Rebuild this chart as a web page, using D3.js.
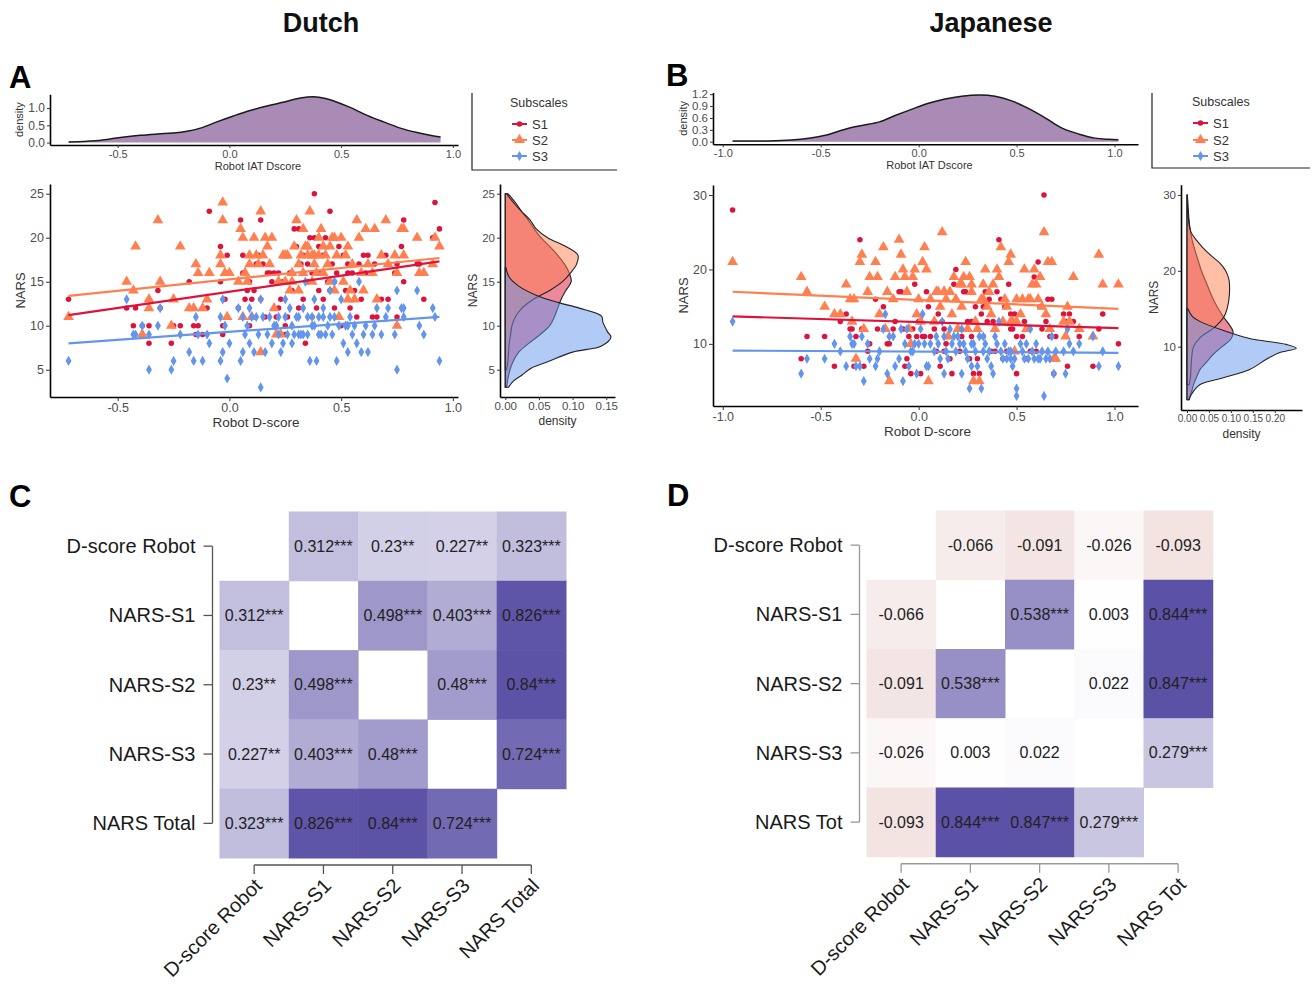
<!DOCTYPE html>
<html>
<head>
<meta charset="utf-8">
<script src="https://cdn.jsdelivr.net/npm/d3@7"></script>
<style>
  body { margin: 0; background: #fff; }
  svg text { font-family: "Liberation Sans", Arial, sans-serif; }
</style>
</head>
<body>
<svg id="fig" width="1314" height="985"></svg>
<script>
// ---------------- data ----------------
const subscales = ["S1", "S2", "S3"];

// Dutch sample: robot D-score and the three NARS subscales per participant
const dutchD = [-0.72,-0.46,-0.43,-0.42,-0.39,-0.36,-0.36,-0.32,-0.31,-0.26,-0.25,-0.22,-0.18,-0.16,-0.15,-0.14,-0.12,-0.10,-0.09,-0.04,
  -0.04,-0.03,-0.03,-0.02,-0.01,0.00,0.04,0.05,0.06,0.06,0.07,0.08,0.09,0.09,0.10,0.11,0.12,0.13,0.14,0.14,
  0.15,0.16,0.17,0.18,0.19,0.20,0.21,0.22,0.23,0.24,0.25,0.25,0.26,0.27,0.28,0.29,0.30,0.31,0.31,0.32,
  0.33,0.34,0.35,0.35,0.36,0.37,0.37,0.38,0.39,0.40,0.40,0.41,0.42,0.42,0.43,0.44,0.45,0.45,0.46,0.47,
  0.48,0.49,0.50,0.51,0.52,0.53,0.54,0.55,0.56,0.57,0.58,0.59,0.60,0.61,0.62,0.64,0.65,0.66,0.68,0.70,
  0.71,0.74,0.75,0.75,0.77,0.78,0.78,0.84,0.85,0.87,0.91,0.92,0.94,0.33,0.28,0.47,0.38,0.22,0.53];
const dutchS1 = [13,12,10,12,10,8,10,14,12,8, 10,10,15,10,9,10,9,12,23,19, 15,9,10,13,18,16,12,22,18,16,
  13,14,15,10,13,14,17,18,22,13, 17,11,16,16,15,16,11,12,13,15, 10,9,11,16,14,21,19,21,12,17,
  13,8,17,15,20,16,11,25,12,19, 14,16,18,13,20,15,23,14,17,12, 16,19,10,18,14,16,12,16,14,11,
  17,13,18,16,18,11,17,11,13,18, 13,16,17,11,19,22,15,17,17,13, 20,24,21,18,15,15,20,16,17];
const dutchS2 = [11,15,14,19,9,12,13,22,15,10, 13,19,12,12,17,16,12,13,16,18, 17,22,24,16,11,16,15,21,20,11,
  16,15,18,17,11,20,18,17,23,7, 18,20,19,17,20,12,9,15,9,18, 18,15,18,14,15,19,22,17,14,18,
  16,19,18,19,23,18,15,17,16,20, 18,21,19,16,18,17,19,15,20,14, 18,11,20,15,18,19,14,17,13,22,
  20,16,14,21,17,16,21,13,18,22, 17,18,10,16,21,21,18,20,16,16, 17,20,19,21,16,20,18,15,13];
const dutchS3 = [6,13,9,9,10,5,9,10,12,5, 6,9,7,6,11,9,6,9,8,6, 11,7,13,10,4,8,12,6,7,11,
  9,10,8,12,11,7,11,9,3,13, 11,7,9,11,8,10,10,11,7,8, 11,13,9,12,10,9,11,9,11,9,
  12,15,9,11,6,11,10,13,6,9, 11,9,11,12,9,10,14,11,9,15, 6,10,13,8,10,7,11,9,10,8,
  15,7,9,10,7,9,10,12,9,11, 12,9,5,14,12,11,12,14,10,9, 12,11,6,9,8,11,10,9,10];

// Japanese sample
const japanD = [-0.95,-0.60,-0.57,-0.48,-0.43,-0.40,-0.37,-0.35,-0.34,-0.33,-0.32,-0.30,-0.29,-0.28,-0.26,-0.25,-0.22,-0.21,-0.20,-0.18,
  -0.17,-0.16,-0.15,-0.12,-0.10,-0.09,-0.08,-0.07,-0.06,-0.05,-0.04,-0.03,-0.02,-0.01,0.00,0.01,0.02,0.03,0.04,0.05,
  0.06,0.08,0.09,0.10,0.11,0.12,0.13,0.14,0.15,0.16,0.17,0.18,0.19,0.20,0.21,0.22,0.23,0.24,0.25,0.26,
  0.27,0.28,0.29,0.30,0.31,0.32,0.33,0.34,0.35,0.36,0.37,0.38,0.39,0.40,0.41,0.42,0.43,0.44,0.45,0.46,
  0.47,0.48,0.49,0.50,0.50,0.52,0.53,0.54,0.55,0.56,0.58,0.59,0.60,0.61,0.62,0.63,0.64,0.65,0.66,0.67,
  0.68,0.69,0.70,0.74,0.75,0.76,0.77,0.79,0.82,0.89,0.92,0.94,1.02,0.27,0.33,0.13,0.47,0.22,-0.13,0.57];
const japanS1 = [28,8,11,11,7,13,14,12,12,7, 11,24,12,7,9,10,16,12,14,15, 12,10,10,13,17,17,12,7,8,11,
  6,12,18,11,13,6,11,11,17,15, 11,12,9,14,7,13,12,10,11,8, 6,18,20,12,9,11,17,17,13,8,
  11,6,15,8,6,14,11,17,13,16, 9,13,9,17,24,16,8,15,9,18, 14,12,14,6,11,14,11,13,8,12,
  18,19,9,21,15,12,30,13,16,11, 16,6,11,14,13,7,14,13,11,7, 12,14,10,13,15,9,12,18,12,9];
const japanS2 = [21,19,17,15,14,14,18,16,13,16, 8,21,22,12,17,19,21,19,14,23, 12,17,5,19,24,22,20,19,17,12,
  10,19,20,14,16,13,21,23,20,5, 16,13,17,17,15,25,17,16,11,17, 14,19,16,12,18,15,19,21,12,19,
  17,5,13,12,5,16,18,20,15,17, 14,18,12,20,19,23,13,16,15,21, 22,13,9,16,13,14,16,20,12,16,
  18,20,18,16,19,15,25,14,21,12, 21,8,8,13,11,15,13,19,12,11, 22,18,18,18,16,17,13,18,16,16];
const japanS3 = [13,6,8,8,10,9,7,11,10,10, 7,7,11,5,10,8,7,8,9,12, 14,6,11,7,8,12,5,10,12,7,
  9,9,10,6,10,12,14,10,7,7, 10,9,11,10,8,13,6,9,8,12, 10,11,9,11,10,6,10,9,8,4,
  7,10,9,7,11,4,9,10,8,9, 7,6,11,10,13,9,8,10,8,9, 8,7,8,4,3,10,9,8,10,8,
  9,8,10,8,8,9,3,8,9,8, 11,6,9,9,6,12,10,9,10,11, 7,9,7,10,11,11,9,12,11,12];

// linear fits: intercept at D = 0, slope
const dutchFitIntercept = [13.85, 15.26, 9.30];
const dutchFitSlope = [3.67, 2.59, 1.81];
const japanFitIntercept = [12.93, 15.89, 8.955];
const japanFitSlope = [-0.81, -1.17, -0.15];

// marginal density of the IAT D-score: [Dscore, density]
const dutchIatDensity = [[-0.72,0.02],[-0.65,0.03],[-0.6,0.05],[-0.54,0.1],[-0.47,0.16],[-0.4,0.21],[-0.32,0.25],[-0.25,0.28],
  [-0.19,0.33],[-0.13,0.42],[-0.056,0.6],[0.018,0.77],[0.093,0.93],[0.168,1.06],[0.24,1.17],[0.317,1.29],[0.377,1.33],
  [0.43,1.28],[0.47,1.2],[0.54,1.02],[0.616,0.79],[0.69,0.6],[0.765,0.42],[0.84,0.29],[0.915,0.19],[0.945,0.16]];
const japanIatDensity = [[-0.95,0.02],[-0.77,0.02],[-0.65,0.04],[-0.56,0.085],[-0.47,0.17],[-0.37,0.32],[-0.29,0.41],
  [-0.2,0.5],[-0.12,0.66],[-0.03,0.83],[0.05,0.97],[0.135,1.08],[0.22,1.15],[0.31,1.18],[0.39,1.15],[0.475,1.03],
  [0.56,0.84],[0.65,0.59],[0.73,0.35],[0.82,0.19],[0.9,0.09],[0.97,0.06],[1.02,0.05]];

// marginal density of each NARS subscale: [NARS, density]
const dutchS1Density = [[3,0.002],[4,0.004],[5,0.007],[6,0.012],[7,0.02],[8,0.035],[9,0.052],[10,0.066],[11,0.073],[12,0.078],
  [13,0.083],[14,0.09],[15,0.098],[16,0.095],[17,0.088],[18,0.078],[19,0.066],[20,0.053],[21,0.043],[22,0.034],[23,0.024],[24,0.015],[25,0.004]];
const dutchS2Density = [[5,0.002],[6,0.004],[7,0.005],[8,0.006],[9,0.008],[10,0.01],[11,0.015],[12,0.025],[13,0.042],[14,0.066],
  [15,0.085],[16,0.097],[17,0.106],[18,0.108],[19,0.09],[20,0.063],[21,0.046],[22,0.037],[23,0.024],[24,0.012],[25,0.002]];
const dutchS3Density = [[3,0.005],[3.7,0.012],[4.4,0.025],[5.2,0.039],[5.9,0.063],[7,0.1],[7.7,0.143],[8.7,0.157],[9.3,0.152],
  [10.4,0.145],[11.1,0.143],[12,0.11],[12.65,0.078],[13.5,0.045],[14.5,0.02],[15.5,0.006],[16.6,0.001]];
const japanS1Density = [[3,0.004],[4,0.01],[5,0.015],[6,0.022],[7,0.03],[8,0.045],[9,0.06],[10,0.08],[11,0.1],[12,0.105],
  [13,0.095],[14,0.082],[16,0.062],[18,0.047],[20,0.033],[22,0.022],[24,0.012],[26,0.006],[28,0.003],[30,0.001]];
const japanS2Density = [[5,0.005],[6,0.008],[8,0.01],[10,0.015],[11.2,0.03],[12.5,0.062],[14,0.085],[16,0.095],[18,0.097],
  [19,0.095],[20,0.088],[21,0.075],[22,0.055],[23,0.037],[24,0.022],[25,0.01],[26,0.005],[28,0.002],[30,0.001]];
const japanS3Density = [[3,0.005],[3.7,0.01],[5,0.03],[5.9,0.083],[7,0.143],[8.3,0.18],[9.2,0.21],[9.8,0.249],[10.3,0.226],
  [11.1,0.14],[12,0.09],[13.3,0.03],[14,0.012],[15,0.002]];

// correlation matrices
const dutchVars = ["D-score Robot", "NARS-S1", "NARS-S2", "NARS-S3", "NARS Total"];
const japanVars = ["D-score Robot", "NARS-S1", "NARS-S2", "NARS-S3", "NARS Tot"];
const dutchCorr = [
  [null, 0.312, 0.23, 0.227, 0.323],
  [0.312, null, 0.498, 0.403, 0.826],
  [0.23, 0.498, null, 0.48, 0.84],
  [0.227, 0.403, 0.48, null, 0.724],
  [0.323, 0.826, 0.84, 0.724, null]];
const dutchStars = [
  ["", "***", "**", "**", "***"],
  ["***", "", "***", "***", "***"],
  ["**", "***", "", "***", "***"],
  ["**", "***", "***", "", "***"],
  ["***", "***", "***", "***", ""]];
const japanCorr = [
  [null, -0.066, -0.091, -0.026, -0.093],
  [-0.066, null, 0.538, 0.003, 0.844],
  [-0.091, 0.538, null, 0.022, 0.847],
  [-0.026, 0.003, 0.022, null, 0.279],
  [-0.093, 0.844, 0.847, 0.279, null]];
const japanStars = [
  ["", "", "", "", ""],
  ["", "", "***", "", "***"],
  ["", "***", "", "", "***"],
  ["", "", "", "", "***"],
  ["", "***", "***", "***", ""]];

// ---------------- drawing ----------------
const svg = d3.select("#fig");
svg.append("rect").attr("width", 1314).attr("height", 985).attr("fill", "#fff");

const FONT = "Liberation Sans, Arial, sans-serif";
const colors = ["#dc143c", "#ff7f50", "#6495ed"];
const shapes = [d3.symbolCircle, d3.symbolTriangle, d3.symbolDiamond];
const shapeSizes = [24, 50, 30];
const fmt1 = d => d.toFixed(1);
const fmt2 = d => d.toFixed(2);

function styleAxis(g, fs) {
  g.attr("font-family", FONT).attr("font-size", fs);
  g.select(".domain").attr("stroke", "#000").attr("stroke-width", 1.6);
  g.selectAll(".tick line").attr("stroke", "#333").attr("stroke-width", 1);
  g.selectAll(".tick text").attr("fill", "#4d4d4d");
}

function axisTitle(txt, x, y, fs, rotate) {
  const t = svg.append("text").attr("font-size", fs).attr("fill", "#333")
    .attr("text-anchor", "middle").text(txt);
  if (rotate) t.attr("transform", `translate(${x},${y}) rotate(-90)`);
  else t.attr("x", x).attr("y", y);
}

function drawTopDensity(p) {
  const x = d3.scaleLinear().domain(p.xDom).range(p.xRange);
  const y = d3.scaleLinear().domain(p.yDom).range(p.yRange);
  const area = d3.area().x(d => x(d[0])).y0(y(0)).y1(d => y(d[1])).curve(d3.curveCatmullRom);
  const line = d3.line().x(d => x(d[0])).y(d => y(d[1])).curve(d3.curveCatmullRom);
  svg.append("path").attr("d", area(p.curve)).attr("fill", "#a98bb5");
  svg.append("path").attr("d", line(p.curve)).attr("fill", "none")
    .attr("stroke", "#1a1a1a").attr("stroke-width", 1.5);
  const gx = svg.append("g").attr("transform", `translate(0,${p.yRange[0]})`)
    .call(d3.axisBottom(x).tickValues(p.xTicks).tickFormat(fmt1).tickSize(3).tickSizeOuter(0).tickPadding(2));
  styleAxis(gx, 11);
  const gy = svg.append("g").attr("transform", `translate(${p.xRange[0]},0)`)
    .call(d3.axisLeft(y).tickValues(p.yTicks).tickFormat(fmt1).tickSize(3).tickSizeOuter(0).tickPadding(2));
  styleAxis(gy, p.yFont);
  axisTitle("Robot IAT Dscore", (p.xRange[0] + p.xRange[1]) / 2 + 4, p.yRange[0] + 25, 11);
  axisTitle("density", p.xRange[0] - p.titleOff, (p.yRange[0] + p.yRange[1]) / 2, 11, true);
}

function drawScatter(p) {
  const x = d3.scaleLinear().domain(p.xDom).range(p.xRange);
  const y = d3.scaleLinear().domain(p.yDom).range(p.yRange);
  const gx = svg.append("g").attr("transform", `translate(0,${p.yRange[0]})`)
    .call(d3.axisBottom(x).tickValues(p.xTicks).tickFormat(fmt1).tickSize(4).tickSizeOuter(0).tickPadding(2));
  styleAxis(gx, 12.5);
  const gy = svg.append("g").attr("transform", `translate(${p.xRange[0]},0)`)
    .call(d3.axisLeft(y).tickValues(p.yTicks).tickSize(4).tickSizeOuter(0).tickPadding(2));
  styleAxis(gy, 12.5);

  p.series.forEach((vals, i) => {
    const pts = p.xs.map((xv, k) => [xv, vals[k]]);
    svg.append("g").selectAll("path").data(pts).join("path")
      .attr("transform", d => `translate(${x(d[0])},${y(d[1])})`)
      .attr("d", d3.symbol().type(shapes[i]).size(shapeSizes[i]))
      .attr("fill", colors[i]);
  });
  const xExt = d3.extent(p.xs);
  p.series.forEach((vals, i) => {
    const a = p.intercept[i], b = p.slope[i];
    svg.append("line")
      .attr("x1", x(xExt[0])).attr("y1", y(a + b * xExt[0]))
      .attr("x2", x(xExt[1])).attr("y2", y(a + b * xExt[1]))
      .attr("stroke", colors[i]).attr("stroke-width", 2.2);
  });
  axisTitle("Robot D-score", (p.xRange[0] + p.xRange[1]) / 2 + 2, p.yRange[0] + 30, 13.5);
  axisTitle("NARS", p.xRange[0] - 25, (p.yRange[0] + p.yRange[1]) / 2, 13, true);
}

function drawSideDensity(p) {
  const x = d3.scaleLinear().domain(p.xDom).range(p.xRange);
  const y = d3.scaleLinear().domain(p.yDom).range(p.yRange);
  const line = d3.line().x(d => x(d[1])).y(d => y(d[0])).curve(d3.curveCatmullRom);
  p.curves.forEach((c, i) => {
    const d = line(c) + `L${x(0)},${y(c[c.length - 1][0])}L${x(0)},${y(c[0][0])}Z`;
    svg.append("path").attr("d", d).attr("fill", colors[i]).attr("fill-opacity", 0.5)
      .attr("stroke", "#222").attr("stroke-width", 1.1);
  });
  const gx = svg.append("g").attr("transform", `translate(0,${p.yRange[0]})`)
    .call(d3.axisBottom(x).tickValues(p.xTicks).tickFormat(fmt2).tickSize(3).tickSizeOuter(0).tickPadding(2));
  styleAxis(gx, p.xFont);
  const gy = svg.append("g").attr("transform", `translate(${p.xRange[0]},0)`)
    .call(d3.axisLeft(y).tickValues(p.yTicks).tickSize(3).tickSizeOuter(0).tickPadding(2));
  styleAxis(gy, 11.5);
  axisTitle("density", (p.xRange[0] + p.xRange[1]) / 2, p.yRange[0] + 28, 12);
  axisTitle("NARS", p.xRange[0] - 23, (p.yRange[0] + p.yRange[1]) / 2, 12, true);
}

function drawLegend(p) {
  svg.append("path").attr("d", `M${p.x},${p.y0}V${p.y1}H${p.x2}`)
    .attr("fill", "none").attr("stroke", "#222").attr("stroke-width", 1.2);
  svg.append("text").attr("x", p.tx).attr("y", p.ty).attr("font-size", 12.5).attr("fill", "#333").text("Subscales");
  subscales.forEach((s, i) => {
    const yy = p.keyY[i];
    svg.append("line").attr("x1", p.kx).attr("x2", p.kx + 15).attr("y1", yy).attr("y2", yy)
      .attr("stroke", colors[i]).attr("stroke-width", 2);
    svg.append("path").attr("transform", `translate(${p.kx + 7.5},${yy})`)
      .attr("d", d3.symbol().type(shapes[i]).size(shapeSizes[i]))
      .attr("fill", colors[i]);
    svg.append("text").attr("x", p.kx + 20).attr("y", yy + 4.5).attr("font-size", 13)
      .attr("fill", "#333").text(s);
  });
}

const corrColor = d3.scaleLinear().domain([-0.1, 0, 0.85])
  .range(["#f2e2e0", "#ffffff", "#5a50a5"]).clamp(true);

function drawCorr(p) {
  const xb = d3.scaleBand().domain(d3.range(5)).range([p.left, p.left + 5 * p.cell]);
  const yb = d3.scaleBand().domain(d3.range(5)).range([p.top, p.top + 5 * p.cell]);
  const cells = [];
  p.corr.forEach((row, r) => row.forEach((v, c) => { if (v !== null) cells.push({ r, c, v, s: p.stars[r][c] }); }));
  svg.append("g").selectAll("rect").data(cells).join("rect")
    .attr("x", d => xb(d.c)).attr("y", d => yb(d.r))
    .attr("width", xb.bandwidth() + 0.5).attr("height", yb.bandwidth() + 0.5)
    .attr("fill", d => corrColor(d.v));
  svg.append("g").selectAll("text").data(cells).join("text")
    .attr("x", d => xb(d.c) + xb.bandwidth() / 2).attr("y", d => yb(d.r) + yb.bandwidth() / 2 + 5.5)
    .attr("text-anchor", "middle").attr("font-size", 16).attr("fill", "#222")
    .text(d => String(d.v) + d.s);

  // row axis (bracket on the left)
  const ax = p.left - 7;
  const cy = i => yb(i) + yb.bandwidth() / 2;
  const cx = i => xb(i) + xb.bandwidth() / 2;
  svg.append("line").attr("x1", ax).attr("x2", ax).attr("y1", cy(0)).attr("y2", cy(4))
    .attr("stroke", p.axisColor).attr("stroke-width", 1.3);
  p.vars.forEach((v, i) => {
    svg.append("line").attr("x1", ax - 9).attr("x2", ax).attr("y1", cy(i)).attr("y2", cy(i))
      .attr("stroke", p.axisColor).attr("stroke-width", 1.3);
    svg.append("text").attr("x", ax - 17).attr("y", cy(i) + 7).attr("text-anchor", "end")
      .attr("font-size", 20).attr("fill", "#1a1a1a").text(v);
  });
  // column axis (bracket below)
  const by = p.top + 5 * p.cell + 7;
  svg.append("line").attr("x1", cx(0)).attr("x2", cx(4)).attr("y1", by).attr("y2", by)
    .attr("stroke", p.axisColor).attr("stroke-width", 1.3);
  p.vars.forEach((v, i) => {
    svg.append("line").attr("x1", cx(i)).attr("x2", cx(i)).attr("y1", by).attr("y2", by + 9)
      .attr("stroke", p.axisColor).attr("stroke-width", 1.3);
    svg.append("text").attr("transform", `translate(${cx(i) + 9},${by + 22}) rotate(-45)`)
      .attr("text-anchor", "end").attr("font-size", 20).attr("fill", "#1a1a1a").text(v);
  });
}

// titles and panel letters
svg.append("text").attr("x", 321).attr("y", 32).attr("text-anchor", "middle")
  .attr("font-size", 27).attr("font-weight", "bold").attr("fill", "#111").text("Dutch");
svg.append("text").attr("x", 991).attr("y", 32).attr("text-anchor", "middle")
  .attr("font-size", 27).attr("font-weight", "bold").attr("fill", "#111").text("Japanese");
[["A", 9, 88], ["B", 666, 86], ["C", 9, 507], ["D", 667, 506]].forEach(l => {
  svg.append("text").attr("x", l[1]).attr("y", l[2]).attr("font-size", 31)
    .attr("font-weight", "bold").attr("fill", "#000").text(l[0]);
});

// ---- panel A (Dutch) ----
drawTopDensity({
  curve: dutchIatDensity, xDom: [-0.803, 1.023], xRange: [50, 458],
  yDom: [-0.07, 1.40], yRange: [145, 94.3], xTicks: [-0.5, 0, 0.5, 1], yTicks: [0, 0.5, 1],
  yFont: 12, titleOff: 27
});
drawScatter({
  xs: dutchD, series: [dutchS1, dutchS2, dutchS3],
  intercept: dutchFitIntercept, slope: dutchFitSlope,
  xDom: [-0.803, 1.023], xRange: [50, 458], yDom: [1.9, 26.1], yRange: [397, 184],
  xTicks: [-0.5, 0, 0.5, 1], yTicks: [5, 10, 15, 20, 25]
});
drawSideDensity({
  curves: [dutchS1Density, dutchS2Density, dutchS3Density],
  xDom: [-0.0078, 0.163], xRange: [500, 615], yDom: [1.9, 26.1], yRange: [397, 184],
  xTicks: [0, 0.05, 0.1, 0.15], yTicks: [5, 10, 15, 20, 25], xFont: 11.5
});
drawLegend({ x: 472, y0: 93, y1: 170, x2: 617, tx: 510, ty: 107, kx: 512, keyY: [124, 140, 156] });

// ---- panel B (Japanese) ----
drawTopDensity({
  curve: japanIatDensity, xDom: [-1.05, 1.12], xRange: [713, 1138],
  yDom: [-0.066, 1.245], yRange: [144.3, 92.4], xTicks: [-1, -0.5, 0, 0.5, 1], yTicks: [0, 0.3, 0.6, 0.9, 1.2],
  yFont: 11.5, titleOff: 26
});
drawScatter({
  xs: japanD, series: [japanS1, japanS2, japanS3],
  intercept: japanFitIntercept, slope: japanFitSlope,
  xDom: [-1.05, 1.12], xRange: [713, 1138], yDom: [1.65, 31.35], yRange: [406, 185],
  xTicks: [-1, -0.5, 0, 0.5, 1], yTicks: [10, 20, 30]
});
drawSideDensity({
  curves: [japanS1Density, japanS2Density, japanS3Density],
  xDom: [-0.0136, 0.262], xRange: [1181, 1302], yDom: [1.65, 31.35], yRange: [410, 184.7],
  xTicks: [0, 0.05, 0.1, 0.15, 0.2], yTicks: [10, 20, 30], xFont: 10
});
drawLegend({ x: 1152, y0: 93, y1: 168, x2: 1310, tx: 1192, ty: 106, kx: 1193, keyY: [123, 140, 156] });

// ---- panels C and D ----
drawCorr({ vars: dutchVars, corr: dutchCorr, stars: dutchStars, left: 219.5, top: 511.5, cell: 69.3, axisColor: "#555" });
drawCorr({ vars: japanVars, corr: japanCorr, stars: japanStars, left: 866.5, top: 510.5, cell: 69.25, axisColor: "#999" });
</script>
</body>
</html>
